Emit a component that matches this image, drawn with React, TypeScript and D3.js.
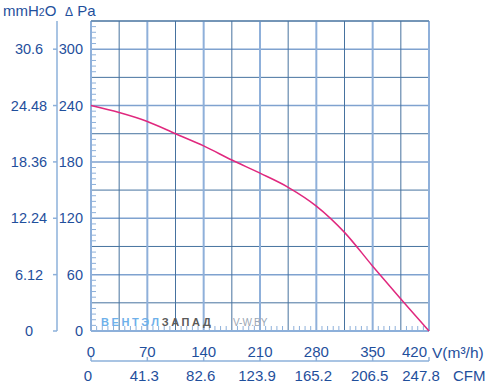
import React from 'react';
import * as d3 from 'd3';

// fan curve
const flow = [0, 35, 70, 105, 140, 175, 210, 245, 280, 315, 350, 385, 420];
const pressure = [240, 232.5, 223, 210, 197, 182, 168, 153, 133, 105, 69, 34, 0];

const paTicks = [0, 60, 120, 180, 240, 300];
const mmTicks = ['0', '6.12', '12.24', '18.36', '24.48', '30.6'];
const flowTicks = [0, 70, 140, 210, 280, 350, 420];
const cfmTicks = ['0', '41.3', '82.6', '123.9', '165.2', '206.5', '247.8'];

const W = 490;
const H = 386;
const plot = { left: 91, right: 429, top: 21, bottom: 331 };

const textColor = '#1f4f9c';
const gridColor = '#46729f';
const lightBlue = '#8db0da';
const font = '"Liberation Sans", Arial, sans-serif';

export default function App() {
  const x = d3.scaleLinear().domain([0, 420]).range([plot.left, plot.right]);
  const y = d3.scaleLinear().domain([0, 330]).range([plot.bottom, plot.top]);

  const vGrid = d3.range(0, 421, 35);
  const hGrid = d3.range(0, 331, 30);
  const xMinor = d3.range(0, 420, 7).filter(v => v % 35 !== 0);
  const yMinor = d3.range(0, 330, 6).filter(v => v % 30 !== 0);

  const line = d3.line<number>()
    .x((_, i) => x(flow[i]))
    .y(d => y(d))
    .curve(d3.curveMonotoneX);

  const axisY = 361;

  return (
    <svg width={W} height={H} style={{ position: 'absolute', left: 0, top: 0, background: '#fff' }}
      fontFamily={font}>
      {/* minor ticks inside the plot */}
      {xMinor.map(v => (
        <line key={'xm' + v} x1={x(v)} x2={x(v)} y1={plot.bottom} y2={plot.bottom - 5}
          stroke={lightBlue} strokeWidth={1} />
      ))}
      {yMinor.map(v => (
        <line key={'ym' + v} x1={plot.left} x2={plot.left + 5} y1={y(v)} y2={y(v)}
          stroke={lightBlue} strokeWidth={1} />
      ))}

      {/* grid */}
      {hGrid.map(v => (
        <line key={'h' + v} x1={plot.left} x2={plot.right} y1={y(v)} y2={y(v)}
          stroke={v % 60 === 0 ? '#7fa2cf' : gridColor} strokeWidth={v % 60 === 0 ? 1.5 : 1} />
      ))}
      {vGrid.map(v => (
        <line key={'v' + v} x1={x(v)} x2={x(v)} y1={plot.top} y2={plot.bottom}
          stroke={v % 70 === 0 ? '#8fb0da' : gridColor} strokeWidth={v % 70 === 0 ? 2 : 1} />
      ))}
      <line x1={plot.left} x2={plot.right} y1={plot.top} y2={plot.top} stroke={gridColor} strokeWidth={1} />
      <line x1={plot.left} x2={plot.right} y1={plot.bottom} y2={plot.bottom} stroke={lightBlue} strokeWidth={2} />

      {/* watermark */}
      <text x={101} y={326} fontSize={11} fontWeight="bold" letterSpacing={2.6}>
        <tspan fill="#6eb0ea">ВЕНТЭЛ</tspan>
        <tspan fill="#5a5a5a">ЗАПАД</tspan>
      </text>
      <text x={233} y={326} fontSize={10} fill="#9aa6b4">V-W.BY</text>

      {/* curve */}
      <path d={line(pressure) || ''} fill="none" stroke="#e0287e" strokeWidth={1.5} />

      {/* left axes */}
      <line x1={57} x2={57} y1={plot.top} y2={plot.bottom} stroke={lightBlue} strokeWidth={1.5} />
      {paTicks.map((v, i) => (
        <g key={'pa' + v}>
          <line x1={53} x2={57} y1={y(v)} y2={y(v)} stroke={lightBlue} strokeWidth={1.5} />
          <text x={29} y={y(v)} dy="0.36em" textAnchor="middle" fontSize={14.5} fill={textColor}>
            {mmTicks[i]}
          </text>
          <text x={83} y={y(v)} dy="0.36em" textAnchor="end" fontSize={14.5} fill={textColor}>
            {v}
          </text>
        </g>
      ))}
      <text x={3} y={16} fontSize={15} fill={textColor}>
        mmH<tspan fontSize={10.5}>2</tspan>O
      </text>
      <text x={65} y={16} fontSize={15} fill={textColor}>
        <tspan fontSize={12}>Δ</tspan> Pa
      </text>

      {/* bottom axes */}
      <line x1={plot.left} x2={plot.right} y1={axisY} y2={axisY} stroke={lightBlue} strokeWidth={1.5} />
      {flowTicks.map((v, i) => (
        <g key={'f' + v}>
          <line x1={x(v)} x2={x(v)} y1={axisY} y2={axisY - 4} stroke={lightBlue} strokeWidth={1.5} />
          <text x={v === 420 ? 427 : x(v)} y={352} dy="0.36em" textAnchor={v === 420 ? 'end' : 'middle'}
            fontSize={15} fill={textColor}>
            {v}
          </text>
          <text x={v === 420 ? 421 : x(v) - 3} y={376} dy="0.36em" textAnchor="middle"
            fontSize={15} fill={textColor}>
            {cfmTicks[i]}
          </text>
        </g>
      ))}
      <text x={432} y={352} dy="0.36em" fontSize={15.5} fill={textColor}>
        V(m³/h)
      </text>
      <text x={453} y={376} dy="0.36em" fontSize={15} fill={textColor}>
        CFM
      </text>
    </svg>
  );
}
